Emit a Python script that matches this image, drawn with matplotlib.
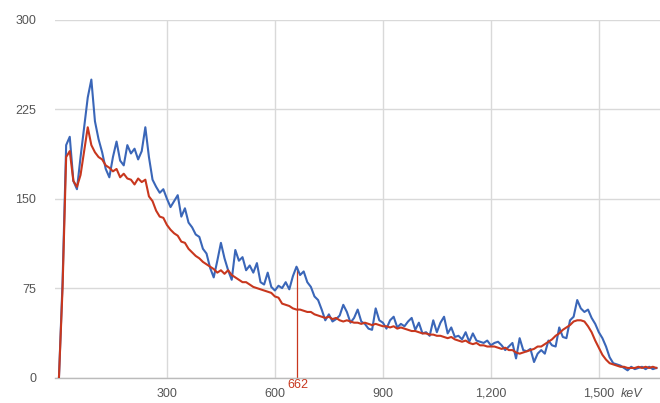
import numpy as np
import matplotlib
matplotlib.use("Agg")
import matplotlib.pyplot as plt
from matplotlib.transforms import blended_transform_factory

plt.rcParams["font.family"] = ["Liberation Sans", "DejaVu Sans"]

# energy bins (keV), 10 keV wide
energy_kev = np.arange(0, 1670, 10)

blue_counts = [
    0, 80, 195, 202, 165, 158, 185, 210, 235, 250,
    215, 200, 189, 175, 168, 185, 198, 182, 178, 195,
    188, 192, 183, 190, 210, 185, 166, 160, 155, 158,
    150, 143, 148, 153, 135, 142, 130, 126, 120, 118,
    108, 104, 92, 84, 98, 113, 100, 90, 82, 107,
    98, 101, 90, 94, 88, 96, 80, 78, 88, 76,
    73, 77, 75, 80, 74, 85, 93, 86, 89, 80,
    76, 68, 65, 57, 48, 53, 47, 49, 52, 61,
    55, 46, 50, 57, 47, 45, 41, 40, 58, 48,
    46, 41, 48, 51, 42, 45, 43, 47, 50, 40,
    46, 37, 38, 35, 48, 38, 46, 51, 37, 42,
    34, 35, 32, 38, 30, 37, 31, 30, 29, 31,
    27, 29, 30, 27, 23, 26, 29, 16, 33, 23,
    22, 24, 13, 20, 23, 20, 31, 27, 26, 42,
    34, 33, 48, 51, 65, 58, 55, 57, 50, 45,
    38, 33, 26, 17, 12, 11, 10, 8, 6, 9,
    7, 8, 9, 7, 9, 7, 8,
]

red_counts = [
    0, 75, 185, 190, 165, 160, 170, 190, 210, 195,
    189, 185, 183, 178, 176, 173, 175, 168, 171, 167,
    166, 162, 167, 164, 166, 152, 148, 140, 135, 134,
    128, 124, 121, 119, 114, 113, 108, 105, 102, 100,
    97, 95, 93, 91, 88, 90, 87, 90, 86, 84,
    82, 80, 80, 78, 76, 75, 74, 73, 72, 71,
    68, 67, 62, 61, 60, 58, 57, 57, 56, 55,
    55, 53, 52, 51, 50, 51, 49, 50, 48, 47,
    48, 47, 46, 46, 45, 46, 45, 44, 45, 44,
    43, 43, 42, 43, 41, 42, 41, 40, 39, 39,
    38, 37, 37, 36, 36, 35, 35, 34, 33, 34,
    32, 31, 30, 31, 29, 28, 29, 27, 27, 26,
    26, 26, 25, 24, 25, 23, 23, 21, 20, 21,
    22, 23, 24, 26, 26, 28, 30, 32, 35, 37,
    40, 42, 44, 47, 48, 48, 47, 43, 38, 31,
    25, 19, 15, 12, 11, 10, 9, 9, 8, 8,
    8, 9, 8, 9, 8, 9, 8,
]

x_ticks = [300, 600, 900, 1200, 1500]
x_tick_labels = ["300", "600", "900", "1,200", "1,500"]
y_ticks = [0, 75, 150, 225, 300]
y_tick_labels = ["0", "75", "150", "225", "300"]
marker_kev = 662
marker_label = "662"
unit_label = "keV"

BLUE = "#3a66b8"
RED = "#c8371e"
GRID = "#d9d9d9"
LABEL = "#555555"

fig = plt.figure(figsize=(6.6, 4.03), dpi=100)
ax = fig.add_axes([55 / 660, (403 - 377.5) / 403, 605 / 660, (377.5 - 20) / 403])

ax.plot(energy_kev, blue_counts, color=BLUE, lw=1.5, zorder=3)
ax.plot(energy_kev, red_counts, color=RED, lw=1.5, zorder=4)

# marker line at 662 keV
mi = int(np.argmin(np.abs(energy_kev - marker_kev)))
ax.vlines(marker_kev, 0, blue_counts[mi], color=RED, lw=0.9, zorder=2)

ax.set_xlim(-11, 1670)
ax.set_ylim(0, 300)
ax.set_xticks(x_ticks)
ax.set_xticklabels(x_tick_labels)
ax.set_yticks(y_ticks)
ax.set_yticklabels(y_tick_labels)
ax.tick_params(axis="both", length=0, labelsize=9, labelcolor=LABEL)
ax.tick_params(axis="y", pad=13.5)
ax.tick_params(axis="x", pad=7.5)

ax.grid(True, color=GRID, lw=1, zorder=0)
for s in ["top", "right", "left"]:
    ax.spines[s].set_visible(False)
ax.spines["bottom"].set_color("#bbbbbb")
ax.spines["bottom"].set_linewidth(1)

trans = blended_transform_factory(ax.transData, ax.transAxes)
ax.text(1562, -0.028, unit_label, transform=trans, ha="left", va="top",
        fontsize=9, color=LABEL, style="italic")
ax.text(marker_kev + 2, -0.004, marker_label, transform=trans, ha="center", va="top",
        fontsize=9, color=RED)

fig.savefig("out.png", dpi=100)
